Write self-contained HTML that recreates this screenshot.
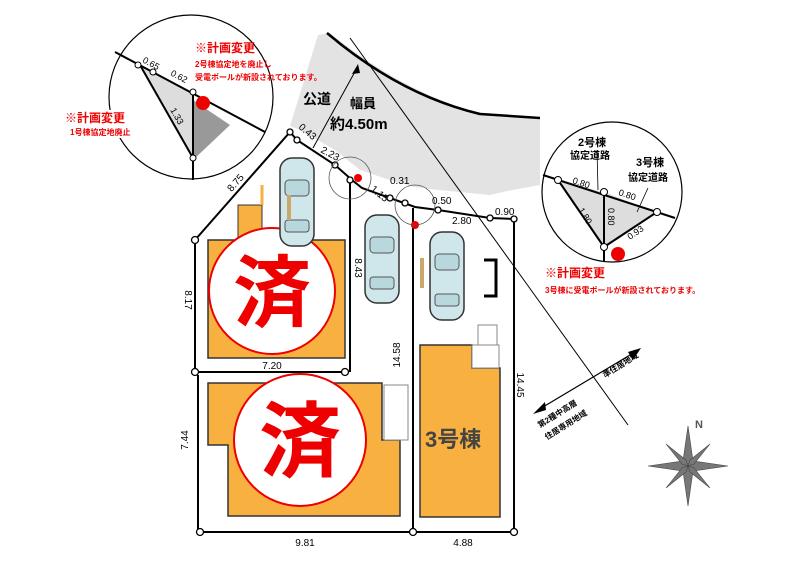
<!DOCTYPE html>
<html><head><meta charset="utf-8"><style>
html,body{margin:0;padding:0;background:#fff;}
svg{display:block;font-family:"Liberation Sans","Noto Sans CJK JP",sans-serif;}
</style></head><body>
<svg width="800" height="576" viewBox="0 0 800 576" xmlns="http://www.w3.org/2000/svg">
<defs>
<g id="car">
<rect x="0" y="0" width="34" height="88" rx="12" fill="#cfe6ea" stroke="#333" stroke-width="1.5"/>
<rect x="5" y="22" width="24" height="16" rx="4" fill="#b8d8de" stroke="#555"/>
<rect x="5" y="62" width="24" height="12" rx="3" fill="#b8d8de" stroke="#555"/>
</g>
</defs>
<path d="M318,35 L330,33 Q400,90 475,112 L540,118 L540,185 L512,190 L490,195 L438,190 L415,187 L390,180 L360,170 L335,150 L300,130 L290,126 Z" fill="#e3e3e3"/>
<path d="M327,33 Q400,95 480,114 L540,118" fill="none" stroke="#000" stroke-width="2.5"/>
<line x1="350" y1="38" x2="628" y2="425" stroke="#000" stroke-width="1"/>
<line x1="313" y1="148" x2="357" y2="68" stroke="#000" stroke-width="1"/>
<polygon points="358,64 352,74 360,73" fill="#000"/>
<text x="303" y="104" font-size="14" font-weight="bold">公道</text>
<text x="350" y="108" font-size="13" font-weight="bold">幅員</text>
<text x="330" y="129" font-size="15" font-weight="bold">約4.50m</text>
<g stroke="#000" stroke-width="2" fill="none">
<polyline points="195,240 290,132 297,140 335,165 352,180 362,188 390,198 415,207 438,210 490,218 514,219"/>
<line x1="195" y1="240" x2="195" y2="372"/>
<line x1="195" y1="372" x2="345" y2="372"/>
<line x1="350" y1="180" x2="350" y2="372"/>
<line x1="198" y1="375" x2="198" y2="532"/>
<line x1="200" y1="532" x2="515" y2="532"/>
<line x1="413" y1="208" x2="413" y2="532"/>
<line x1="514" y1="219" x2="514" y2="532"/>
</g>
<g fill="#fff" stroke="#000" stroke-width="1.3">
<circle cx="195" cy="240" r="3.5"/><circle cx="195" cy="372" r="3.5"/><circle cx="345" cy="372" r="3.5"/>
<circle cx="200" cy="532" r="3.5"/><circle cx="413" cy="532" r="3.5"/><circle cx="514" cy="532" r="3.5"/>
<circle cx="290" cy="132" r="3"/><circle cx="297" cy="140" r="3"/><circle cx="335" cy="165" r="3"/>
<circle cx="350" cy="180" r="3"/><circle cx="390" cy="198" r="3"/><circle cx="405" cy="203" r="3"/>
<circle cx="438" cy="210" r="3"/><circle cx="490" cy="218" r="3"/><circle cx="514" cy="219" r="3"/>
</g>
<circle cx="358" cy="178" r="4" fill="#e00"/><circle cx="415" cy="225" r="4" fill="#e00"/>
<circle cx="350" cy="178" r="21" fill="none" stroke="#555" stroke-width="0.8"/>
<circle cx="415" cy="205" r="20" fill="none" stroke="#555" stroke-width="0.8"/>
<polygon points="238,205 262,205 262,238 238,238" fill="#f8b040" stroke="#333"/>
<line x1="262" y1="185" x2="262" y2="205" stroke="#f8b040" stroke-width="3"/>
<rect x="208" y="240" width="137" height="118" fill="#f8b040" stroke="#333" stroke-width="1.5"/>
<polygon points="208,383 382,383 382,440 400,440 400,516 228,516 228,445 208,445" fill="#f8b040" stroke="#333" stroke-width="1.5"/>
<rect x="384" y="385" width="24" height="55" fill="#fff" stroke="#888"/>
<polygon points="420,345 472,345 472,368 500,368 500,517 420,517" fill="#f8b040" stroke="#333" stroke-width="1.5"/>
<rect x="472" y="345" width="27" height="23" fill="#fff" stroke="#888"/>
<rect x="478" y="325" width="19" height="20" fill="#fff" stroke="#888"/>
<text x="425" y="447" font-size="22" font-weight="bold" fill="#444">3号棟</text>
<circle cx="272" cy="291" r="63" fill="#fff" stroke="#e00" stroke-width="2"/>
<text x="272" y="320" font-size="78" font-weight="bold" fill="#e00" text-anchor="middle">済</text>
<circle cx="300" cy="440" r="66" fill="#fff" stroke="#e00" stroke-width="2"/>
<text x="300" y="470" font-size="82" font-weight="bold" fill="#e00" text-anchor="middle">済</text>
<use href="#car" x="280" y="158"/>
<use href="#car" x="365" y="215"/>
<use href="#car" x="430" y="232"/>
<rect x="420" y="258" width="4" height="30" fill="#c9a86a"/>
<rect x="287" y="195" width="4" height="25" fill="#c9a86a"/>
<path d="M484,260 L496,260 L496,296 L484,296" fill="none" stroke="#000" stroke-width="3"/>
<g font-size="10" fill="#000">
<text x="272" y="369" text-anchor="middle">7.20</text>
<text x="305" y="546" text-anchor="middle">9.81</text>
<text x="463" y="546" text-anchor="middle">4.88</text>
<text transform="translate(185,300) rotate(90)" text-anchor="middle">8.17</text>
<text transform="translate(188,440) rotate(-90)" text-anchor="middle">7.44</text>
<text transform="translate(400,355) rotate(-90)" text-anchor="middle">14.58</text>
<text transform="translate(517,385) rotate(90)" text-anchor="middle">14.45</text>
<text transform="translate(355,268) rotate(90)" text-anchor="middle">8.43</text>
<text transform="translate(238,185) rotate(-48)" text-anchor="middle">8.75</text>
<text transform="translate(298,128) rotate(40)">0.43</text>
<text transform="translate(320,152) rotate(28)">2.23</text>
<text transform="translate(370,190) rotate(40)">1.15</text>
<text x="390" y="184">0.31</text>
<text x="432" y="204">0.50</text>
<text x="452" y="224">2.80</text>
<text x="495" y="215">0.90</text>
</g>
<circle cx="191" cy="97" r="82" fill="#fff" stroke="#000" stroke-width="1.2"/>
<polygon points="140,65 193,92 193,158" fill="#ddd"/>
<polygon points="193,100 230,125 193,160" fill="#999"/>
<g stroke="#000" stroke-width="2" fill="none">
<line x1="115" y1="52" x2="265" y2="132"/>
<line x1="140" y1="65" x2="193" y2="158"/>
<line x1="193" y1="92" x2="193" y2="180"/>
</g>
<g fill="#fff" stroke="#000"><circle cx="138" cy="65" r="3"/><circle cx="153" cy="72" r="3"/><circle cx="193" cy="92" r="3"/><circle cx="193" cy="158" r="3"/></g>
<circle cx="203" cy="103" r="7" fill="#e00"/>
<g font-size="9"><text x="142" y="62" transform="rotate(28 142 62)">0.65</text><text x="170" y="75" transform="rotate(28 170 75)">0.62</text><text x="170" y="110" transform="rotate(60 170 110)">1.33</text></g>
<g fill="#e00" font-weight="bold">
<text x="195" y="52" font-size="12">※計画変更</text>
<text x="195" y="67" font-size="8">2号棟協定地を廃止し</text>
<text x="195" y="80" font-size="8">受電ポールが新設されております。</text>
</g>
<rect x="58" y="110" width="80" height="28" fill="#fff"/>
<g fill="#e00" font-weight="bold">
<text x="65" y="122" font-size="12">※計画変更</text>
<text x="70" y="135" font-size="8">1号棟協定地廃止</text>
</g>
<circle cx="612" cy="192" r="70" fill="#fff" stroke="#000" stroke-width="1.2"/>
<polygon points="558,180 603,192 604,247" fill="#ddd"/>
<polygon points="604,192 657,212 604,247" fill="#ddd"/>
<g stroke="#000" stroke-width="2" fill="none">
<line x1="543" y1="175" x2="675" y2="218"/>
<line x1="558" y1="180" x2="604" y2="247"/>
<line x1="604" y1="192" x2="604" y2="262"/>
<line x1="604" y1="247" x2="657" y2="212"/>
</g>
<line x1="597" y1="150" x2="598" y2="190" stroke="#000" stroke-width="0.8"/>
<line x1="648" y1="188" x2="637" y2="212" stroke="#000" stroke-width="0.8"/>
<g fill="#fff" stroke="#000"><circle cx="558" cy="180" r="3.5"/><circle cx="604" cy="192" r="3.5"/><circle cx="657" cy="212" r="3.5"/><circle cx="604" cy="247" r="3.5"/></g>
<circle cx="618" cy="254" r="7" fill="#e00"/>
<g font-size="11" font-weight="bold"><text x="578" y="146">2号棟</text><text x="570" y="159" font-size="10">協定道路</text><text x="636" y="166">3号棟</text><text x="628" y="181" font-size="10">協定道路</text></g>
<g font-size="9"><text x="572" y="183" transform="rotate(18 572 183)">0.80</text><text x="618" y="195" transform="rotate(18 618 195)">0.80</text><text x="578" y="210" transform="rotate(58 578 210)">1.80</text><text x="608" y="208" transform="rotate(90 608 208)">0.80</text><text x="630" y="240" transform="rotate(-35 630 240)">0.93</text></g>
<g fill="#e00" font-weight="bold">
<text x="545" y="277" font-size="12">※計画変更</text>
<text x="545" y="293" font-size="8">3号棟に受電ポールが新設されております。</text>
</g>
<line x1="538" y1="410" x2="635" y2="352" stroke="#000" stroke-width="1.2"/>
<polygon points="533,414 545,402 546,410" fill="#000"/>
<polygon points="641,348 628,352 633,360" fill="#000"/>
<text transform="translate(605,378) rotate(-32)" font-size="8" font-weight="bold">準住居地域</text>
<text transform="translate(540,428) rotate(-32)" font-size="8" font-weight="bold">第2種中高層</text>
<text transform="translate(547,440) rotate(-32)" font-size="8" font-weight="bold">住居専用地域</text>
<g transform="translate(688,466)" fill="#777" stroke="#444" stroke-width="0.6">
<polygon points="0,-40 5,-5 0,0 -5,-5"/><polygon points="0,40 5,5 0,0 -5,5"/>
<polygon points="-40,0 -5,-5 0,0 -5,5"/><polygon points="40,0 5,-5 0,0 5,5"/>
<polygon points="-22,-22 -2,-6 0,0 -6,-2"/><polygon points="22,-22 6,-2 0,0 2,-6"/>
<polygon points="-22,22 -6,2 0,0 -2,6"/><polygon points="22,22 2,6 0,0 6,2"/>
</g>
<text x="699" y="428" font-size="11" font-weight="bold" fill="#555" text-anchor="middle">N</text>
</svg>
</body></html>
